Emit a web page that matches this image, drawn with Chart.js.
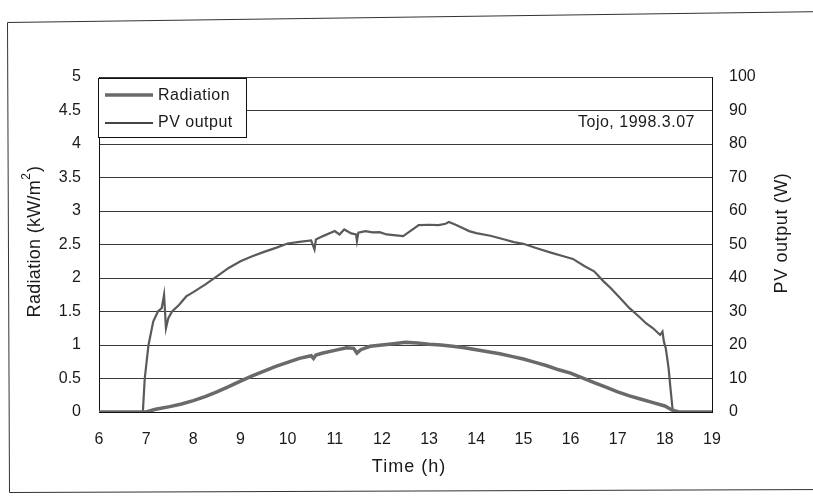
<!DOCTYPE html>
<html>
<head>
<meta charset="utf-8">
<script src="https://cdn.jsdelivr.net/npm/chart.js@4/dist/chart.umd.min.js"></script>
<style>
  html, body { margin: 0; padding: 0; background: #fff; }
  #wrap { position: relative; width: 813px; height: 499px; }
</style>
</head>
<body>
<div id="wrap"><canvas id="c" width="813" height="499"></canvas></div>
<script>
// Radiation (kW/m2) vs time of day
const radTime = [6.0, 7.0, 7.2, 7.5, 7.75, 8.0, 8.25, 8.5, 8.75, 9.0, 9.25, 9.5, 9.75, 10.0, 10.25, 10.5, 10.55, 10.6, 10.75, 11.0, 11.25, 11.4, 11.47, 11.55, 11.75, 12.0, 12.25, 12.5, 12.75, 13.0, 13.25, 13.5, 13.75, 14.0, 14.25, 14.5, 14.75, 15.0, 15.25, 15.5, 15.75, 16.0, 16.25, 16.5, 16.75, 17.0, 17.25, 17.5, 17.75, 18.0, 18.15, 18.3, 19.0];
const radiation = [0, 0, 0.04, 0.08, 0.12, 0.17, 0.23, 0.3, 0.38, 0.46, 0.54, 0.61, 0.68, 0.74, 0.8, 0.84, 0.8, 0.85, 0.88, 0.92, 0.96, 0.95, 0.88, 0.93, 0.98, 1.0, 1.02, 1.04, 1.03, 1.01, 1.0, 0.98, 0.96, 0.93, 0.9, 0.87, 0.83, 0.79, 0.74, 0.69, 0.63, 0.58, 0.51, 0.44, 0.37, 0.3, 0.24, 0.19, 0.14, 0.09, 0.03, 0, 0];

// PV output (W) vs time of day
const pvTime = [6.0, 6.93, 6.97, 7.05, 7.15, 7.25, 7.33, 7.38, 7.42, 7.47, 7.55, 7.7, 7.85, 8.0, 8.25, 8.5, 8.75, 9.0, 9.25, 9.5, 9.75, 10.0, 10.25, 10.5, 10.57, 10.6, 10.75, 11.0, 11.1, 11.2, 11.35, 11.45, 11.47, 11.5, 11.65, 11.8, 11.95, 12.1, 12.3, 12.45, 12.6, 12.78, 13.0, 13.2, 13.35, 13.42, 13.55, 13.7, 13.85, 14.0, 14.3, 14.6, 14.8, 15.0, 15.3, 15.6, 15.85, 16.05, 16.3, 16.5, 16.7, 16.85, 17.05, 17.25, 17.45, 17.6, 17.75, 17.9, 17.95, 17.98, 18.02, 18.08, 18.12, 18.17, 19.0];
const pvOutput = [0, 0, 10, 20, 27, 30, 31, 35, 25, 28, 30, 32, 34.5, 35.8, 38, 40.5, 43, 45, 46.5, 47.8, 49, 50.3, 50.8, 51.2, 48.5, 51.5, 52.5, 54, 53, 54.5, 53.3, 53, 51, 53.5, 54, 53.6, 53.7, 53, 52.7, 52.5, 54, 55.8, 55.9, 55.8, 56.2, 56.7, 56, 55, 54, 53.4, 52.6, 51.5, 50.7, 50.2, 48.8, 47.5, 46.5, 45.7, 43.5, 42, 39, 37, 34, 31, 28.5, 26.5, 25, 23, 24, 21, 19, 13, 7, 0, 0];

// axis ticks
const timeTicks = [6, 19, 1];
const radTicks = [0, 5, 0.5];
const pvTicks = [0, 100, 10];

const FONT = '"Liberation Sans", Arial, sans-serif';
const INK = '#1a1a1a';

const toPoints = (xs, ys) => xs.map((x, i) => ({ x: x, y: ys[i] }));

const decor = {
  id: 'decor',
  beforeDraw(chart) {
    const ctx = chart.ctx;
    ctx.save();
    ctx.fillStyle = '#fff';
    ctx.fillRect(0, 0, chart.width, chart.height);
    // outer frame of the scanned sheet
    ctx.strokeStyle = '#333';
    ctx.lineWidth = 1;
    ctx.beginPath();
    ctx.moveTo(830, 11.5);
    ctx.lineTo(7.5, 22.5);
    ctx.lineTo(9.5, 492.5);
    ctx.lineTo(830, 489.5);
    ctx.stroke();
    ctx.restore();
  },
  afterDraw(chart) {
    const ctx = chart.ctx;
    ctx.save();
    ctx.fillStyle = INK;
    ctx.textBaseline = 'middle';

    // x title
    ctx.font = '18px ' + FONT;
    ctx.textAlign = 'center';
    ctx.letterSpacing = '1px';
    ctx.fillText('Time (h)', 409, 467);

    // left title with superscript
    ctx.save();
    ctx.translate(35, 242);
    ctx.rotate(-Math.PI / 2);
    ctx.letterSpacing = '0.3px';
    const main = 'Radiation (kW/m';
    ctx.font = '18px ' + FONT;
    const w1 = ctx.measureText(main).width;
    ctx.font = '12px ' + FONT;
    const w2 = ctx.measureText('2').width;
    ctx.font = '18px ' + FONT;
    const w3 = ctx.measureText(')').width;
    let x0 = -(w1 + w2 + w3) / 2;
    ctx.textAlign = 'left';
    ctx.fillText(main, x0, 0);
    ctx.font = '12px ' + FONT;
    ctx.fillText('2', x0 + w1, -8);
    ctx.font = '18px ' + FONT;
    ctx.fillText(')', x0 + w1 + w2 + 1, 0);
    ctx.restore();

    // right title
    ctx.save();
    ctx.translate(782, 233);
    ctx.rotate(-Math.PI / 2);
    ctx.font = '18px ' + FONT;
    ctx.textAlign = 'center';
    ctx.letterSpacing = '0.6px';
    ctx.fillText('PV output (W)', 0, 0);
    ctx.restore();

    // legend box
    ctx.fillStyle = '#fff';
    ctx.fillRect(98, 78, 148, 59);
    ctx.strokeStyle = '#111';
    ctx.lineWidth = 1;
    ctx.strokeRect(98.5, 78.5, 148, 59);
    ctx.lineCap = 'butt';
    ctx.strokeStyle = '#6a6a6a';
    ctx.lineWidth = 3.5;
    ctx.beginPath(); ctx.moveTo(105, 95); ctx.lineTo(153, 95); ctx.stroke();
    ctx.strokeStyle = '#444';
    ctx.lineWidth = 2;
    ctx.beginPath(); ctx.moveTo(105, 123); ctx.lineTo(153, 123); ctx.stroke();
    ctx.fillStyle = INK;
    ctx.font = '16px ' + FONT;
    ctx.textAlign = 'left';
    ctx.letterSpacing = '0.5px';
    ctx.fillText('Radiation', 158, 96);
    ctx.fillText('PV output', 158, 123);

    // site / date note
    ctx.fillText('Tojo, 1998.3.07', 578, 123);
    ctx.restore();
  }
};

new Chart(document.getElementById('c'), {
  type: 'line',
  data: {
    datasets: [
      {
        label: 'Radiation',
        data: toPoints(radTime, radiation),
        yAxisID: 'y',
        borderColor: '#6a6a6a',
        borderWidth: 3.5,
        pointRadius: 0,
        tension: 0
      },
      {
        label: 'PV output',
        data: toPoints(pvTime, pvOutput),
        yAxisID: 'y1',
        borderColor: '#5a5a5a',
        borderWidth: 2.2,
        pointRadius: 0,
        tension: 0
      }
    ]
  },
  options: {
    responsive: false,
    animation: false,
    layout: { padding: { top: 77, left: 0, right: 0, bottom: 0 } },
    plugins: { legend: { display: false }, tooltip: { enabled: false } },
    scales: {
      x: {
        type: 'linear',
        min: timeTicks[0], max: timeTicks[1],
        ticks: { stepSize: timeTicks[2], color: INK, padding: 18, font: { family: FONT, size: 16 } },
        grid: { display: false, drawTicks: false },
        border: { display: true, color: '#111', width: 1 },
        afterFit: s => { s.height = 87; }
      },
      y: {
        position: 'left',
        min: radTicks[0], max: radTicks[1],
        ticks: { stepSize: radTicks[2], color: INK, padding: 18, font: { family: FONT, size: 16 }, callback: v => String(v) },
        grid: { color: '#3a3a3a', lineWidth: 1, drawTicks: false },
        border: { display: true, color: '#111', width: 1 },
        afterFit: s => { s.width = 99; }
      },
      y1: {
        position: 'right',
        min: pvTicks[0], max: pvTicks[1],
        ticks: { stepSize: pvTicks[2], color: INK, padding: 17, font: { family: FONT, size: 16 }, callback: v => String(v) },
        grid: { display: false, drawTicks: false },
        border: { display: true, color: '#111', width: 1 },
        afterFit: s => { s.width = 101; }
      }
    }
  },
  plugins: [decor]
});
</script>
</body>
</html>
